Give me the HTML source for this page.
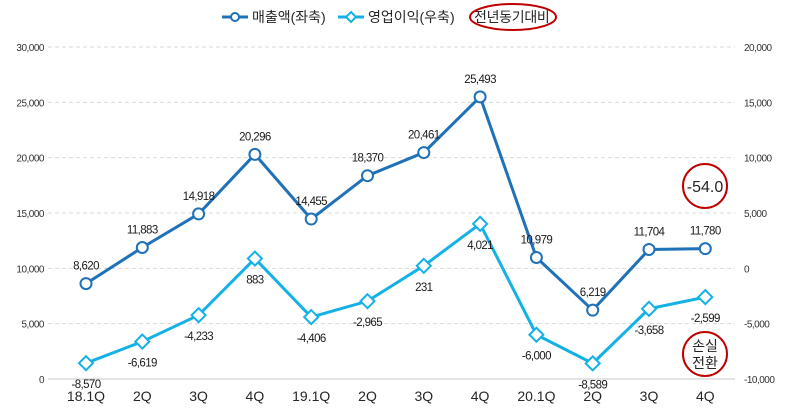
<!DOCTYPE html>
<html><head><meta charset="utf-8"><style>
body{margin:0;background:#fff;}
svg text{font-family:"Liberation Sans","Noto Sans CJK KR",sans-serif;}
</style></head><body>
<svg id="c" width="788" height="410" xmlns="http://www.w3.org/2000/svg"></svg>
<script>
const categories=["18.1Q","2Q","3Q","4Q","19.1Q","2Q","3Q","4Q","20.1Q","2Q","3Q","4Q"];
const salesValues=[8620,11883,14918,20296,14455,18370,20461,25493,10979,6219,11704,11780];
const opValues=[-8570,-6619,-4233,883,-4406,-2965,231,4021,-6000,-8589,-3658,-2599];
const leftTicks=[0,5000,10000,15000,20000,25000,30000];
const rightTicks=[-10000,-5000,0,5000,10000,15000,20000];
const NS="http://www.w3.org/2000/svg";
const svg=document.getElementById('c');
const x0=86,dx=56.3,yb=379,yt=47;
const xs=i=>x0+i*dx;
const yL=v=>yb-(v/30000)*(yb-yt);
const yR=v=>yb-((v+10000)/30000)*(yb-yt);
const fmt=v=>v.toLocaleString('en-US');
function el(t,a,p){const e=document.createElementNS(NS,t);for(const k in a)e.setAttribute(k,a[k]);(p||svg).appendChild(e);return e;}
function txt(s,a){const e=el('text',a);e.textContent=s;return e;}
leftTicks.forEach((v,i)=>{
 const y=yL(v);
 const g=el('line',{x1:48,x2:735,y1:y,y2:y,stroke:v===0?'#c8c8c8':'#d9d9d9','stroke-dasharray':v===0?'':'4,3'});
 
 
 const t=txt(fmt(v),{x:44,y:y+4,'text-anchor':'end','font-size':10,fill:'#333','letter-spacing':'-0.5'});
 
 
});
rightTicks.forEach(v=>{
 const t=txt(fmt(v),{x:744,y:yR(v)+4,'font-size':10,fill:'#333','letter-spacing':'-0.5'});
 
 
});
categories.forEach((c,i)=>{
 const t=txt(c,{x:xs(i),y:401,'text-anchor':'middle','font-size':14,fill:'#262626'});
 
 
});
function series(vals,yf,color,name,marker,labelDy){
 const p=el('polyline',{points:vals.map((v,i)=>xs(i)+','+yf(v)).join(' '),fill:'none',stroke:color,'stroke-width':3});
 
 
 vals.forEach((v,i)=>{
  const x=xs(i),y=yf(v);
  let m;
  if(marker==='circle')m=el('circle',{cx:x,cy:y,r:5.5,fill:'#fff',stroke:color,'stroke-width':2});
  else m=el('polygon',{points:`${x},${y-7} ${x+7},${y} ${x},${y+7} ${x-7},${y}`,fill:'#fff',stroke:color,'stroke-width':2});
  
  
  const t=txt(fmt(v),{x:x,y:y+labelDy,'text-anchor':'middle','font-size':11.5,fill:'#1a1a1a','letter-spacing':'-0.6'});
  
  
 });
}
series(salesValues,yL,'#1f71b8','sales','circle',-14);
series(opValues,yR,'#14b1e7','operating-profit','diamond',25);
const lg=el('g',{});


el('line',{x1:222,x2:248,y1:17,y2:17,stroke:'#1f71b8','stroke-width':3},lg);
el('circle',{cx:235,cy:17,r:4,fill:'#fff',stroke:'#1f71b8','stroke-width':2},lg);
const l1=txt('매출액(좌축)',{x:252,y:22,'font-size':14,fill:'#262626'});


el('line',{x1:338,x2:364,y1:17,y2:17,stroke:'#14b1e7','stroke-width':3},lg);
el('polygon',{points:'351,12 356,17 351,22 346,17',fill:'#fff',stroke:'#14b1e7','stroke-width':2},lg);
const l2=txt('영업이익(우축)',{x:368,y:22,'font-size':14,fill:'#262626'});


const l3=txt('전년동기대비',{x:474,y:22,'font-size':14,fill:'#262626','letter-spacing':'-0.3'});


const e1=el('ellipse',{cx:513,cy:17,rx:43,ry:13,fill:'none',stroke:'#c00000','stroke-width':2});


const c1=el('circle',{cx:705,cy:186,r:22,fill:'none',stroke:'#c00000','stroke-width':2});


const t1=txt('-54.0',{x:705,y:192,'text-anchor':'middle','font-size':16,fill:'#262626'});


const c2=el('circle',{cx:705,cy:354,r:22,fill:'none',stroke:'#c00000','stroke-width':2});


const t2=txt('손실',{x:705,y:351,'text-anchor':'middle','font-size':14,fill:'#262626'});


const t3=txt('전환',{x:705,y:368,'text-anchor':'middle','font-size':14,fill:'#262626'});


</script>
</body></html>
